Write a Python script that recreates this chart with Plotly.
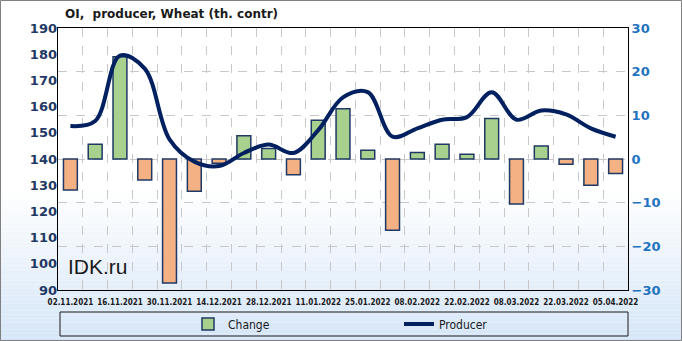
import plotly.graph_objects as go

dates = ["02.11.2021", "09.11.2021", "16.11.2021", "23.11.2021", "30.11.2021", "07.12.2021",
         "14.12.2021", "21.12.2021", "28.12.2021", "04.01.2022", "11.01.2022", "18.01.2022",
         "25.01.2022", "01.02.2022", "08.02.2022", "15.02.2022", "22.02.2022", "01.03.2022",
         "08.03.2022", "15.03.2022", "22.03.2022", "29.03.2022", "05.04.2022"]
change = [-7.1, 3.4, 23.4, -4.8, -28.4, -7.4, -1.0, 5.3, 2.4, -3.6, 8.9, 11.5,
          2.0, -16.3, 1.5, 3.4, 1.1, 9.3, -10.3, 3.0, -1.2, -6.0, -3.3]
producer = [152.6, 154.5, 179.5, 174.5, 147.5, 139.0, 137.3, 142.3, 145.5, 142.3, 151.0, 163.5,
            165.5, 148.5, 151.7, 155.0, 156.0, 165.5, 155.0, 158.5, 157.0, 151.7, 148.5]

W, H = 682, 341
L, R, T, B = 58, 54, 28, 51
pw, ph = W - L - R, H - T - B

def px(x):
    return (x - L) / pw

def py(y):
    return (H - B - y) / ph

xi = list(range(len(dates)))
pos = [v if v >= 0 else None for v in change]
neg = [v if v < 0 else None for v in change]

fig = go.Figure()
fig.add_trace(go.Bar(
    x=xi, y=pos, name="Change", yaxis="y",
    marker=dict(color="#a9d18e", line=dict(color="#1f3864", width=1.5)),
    width=0.56,
))
fig.add_trace(go.Bar(
    x=xi, y=neg, name="Change", yaxis="y", showlegend=False,
    marker=dict(color="#f4b183", line=dict(color="#1f3864", width=1.5)),
    width=0.56,
))
fig.add_trace(go.Scatter(
    x=xi, y=producer, name="Producer", yaxis="y2", mode="lines",
    line=dict(color="#002060", width=4, shape="spline", smoothing=1),
))

# background gradient bands
shapes = []
n = 40
top_c = (255, 255, 255)
bot_c = (214, 230, 248)
start = 190
for k in range(n):
    y0 = start + (H - start) * k / n
    y1 = start + (H - start) * (k + 1) / n
    t = (k + 0.5) / n
    c = tuple(int(top_c[j] + (bot_c[j] - top_c[j]) * t) for j in range(3))
    shapes.append(dict(type="rect", xref="paper", yref="paper", layer="below",
                       x0=px(0), x1=px(W), y0=py(y1), y1=py(y0),
                       fillcolor="rgb(%d,%d,%d)" % c, line=dict(width=0)))
# legend box
shapes.append(dict(type="rect", xref="paper", yref="paper", layer="below",
                   x0=px(60), x1=px(628), y0=py(336), y1=py(312),
                   fillcolor="rgba(0,0,0,0)", line=dict(color="#1a1a1a", width=1)))
# outer border
shapes.append(dict(type="rect", xref="paper", yref="paper", layer="above",
                   x0=px(0.5), x1=px(W - 0.5), y0=py(H - 0.5), y1=py(0.5),
                   fillcolor="rgba(0,0,0,0)", line=dict(color="#808080", width=1)))

fig.update_layout(
    width=W, height=H,
    margin=dict(l=L, r=R, t=T, b=B, autoexpand=False),
    paper_bgcolor="white",
    plot_bgcolor="rgba(0,0,0,0)",
    showlegend=True,
    barmode="overlay",
    shapes=shapes,
    xaxis=dict(
        range=[-0.5, len(dates) - 0.5],
        tickvals=xi[::2], ticktext=dates[::2], tickangle=0,
        tickfont=dict(family="DejaVu Sans Condensed", size=8, color="#1a1a1a", weight="bold"),
        ticklabelstandoff=4,
        showgrid=False, zeroline=False,
        showline=True, linecolor="black", linewidth=1, mirror=True,
        ticks="", ticklen=0,
        minor=dict(tick0=0.5, dtick=1, showgrid=True, gridcolor="#c8c8c8",
                   griddash="dash", gridwidth=1, ticks=""),
    ),
    yaxis=dict(
        side="right", range=[-30, 30], dtick=10,
        tickfont=dict(family="DejaVu Sans", size=13, color="#1f73c0", weight="bold"),
        showgrid=True, gridcolor="#c8c8c8", griddash="dash", gridwidth=1,
        zeroline=False, showline=True, linecolor="black", linewidth=1, mirror=True,
        ticks="",
    ),
    yaxis2=dict(
        side="left", overlaying="y", range=[90, 190], dtick=10,
        tickfont=dict(family="DejaVu Sans", size=13, color="#1f3864", weight="bold"),
        showgrid=False, zeroline=False, ticks="",
    ),
    legend=dict(
        orientation="h", x=px(188), xanchor="left", y=py(324), yanchor="middle",
        bgcolor="rgba(0,0,0,0)", borderwidth=0,
        entrywidth=166, entrywidthmode="pixels",
        font=dict(family="DejaVu Sans Condensed", size=12, color="#1a1a1a"),
        itemwidth=30,
    ),
    annotations=[
        dict(text="<b>OI,  producer, Wheat (th. contr)</b>", xref="paper", yref="paper",
             x=px(63), y=py(14), xanchor="left", yanchor="middle", showarrow=False,
             font=dict(family="DejaVu Sans", size=12, color="#1a1a1a")),
        dict(text="IDK.ru", xref="paper", yref="paper",
             x=px(66), y=py(266), xanchor="left", yanchor="middle", showarrow=False,
             font=dict(family="Liberation Sans", size=21, color="#1a1a1a")),
    ],
)

fig.write_html("out.html")
